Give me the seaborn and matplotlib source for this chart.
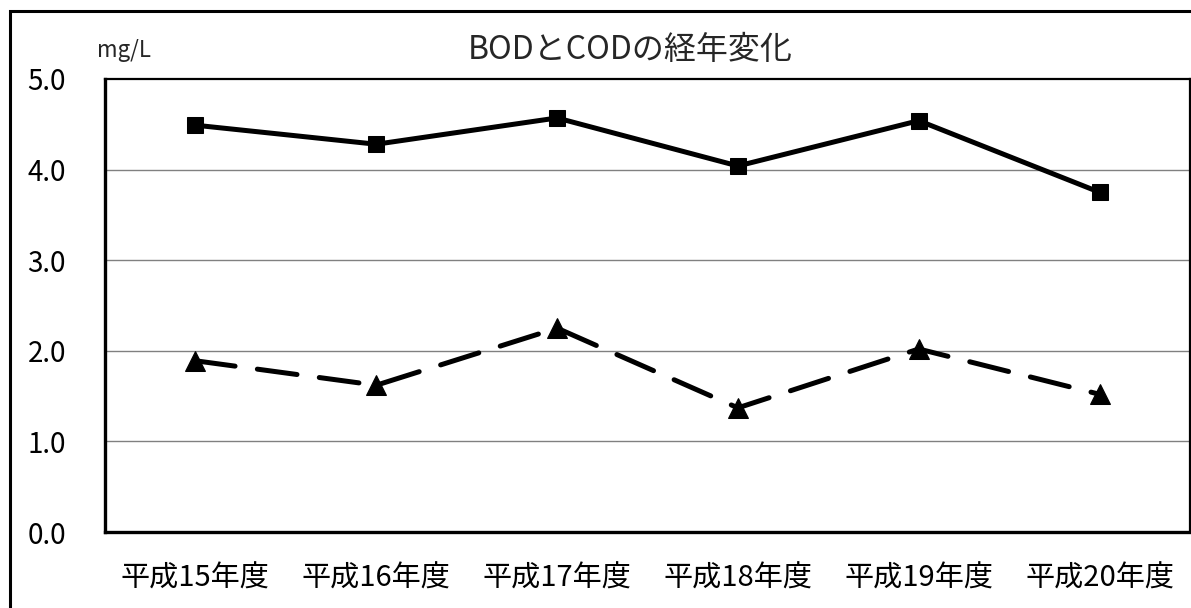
import matplotlib
matplotlib.use("Agg")
import matplotlib.pyplot as plt
from matplotlib.patches import Rectangle
from matplotlib.ticker import FixedLocator
import seaborn as sns
import pandas as pd

categories = ["平成15年度", "平成16年度", "平成17年度", "平成18年度", "平成19年度", "平成20年度"]
cod_values = [4.49, 4.28, 4.57, 4.04, 4.54, 3.75]
bod_values = [1.89, 1.62, 2.25, 1.37, 2.02, 1.52]
y_ticks = [0.0, 1.0, 2.0, 3.0, 4.0, 5.0]
title = "BODとCODの経年変化"
unit = "mg/L"

sns.set_theme(style="white")
plt.rcParams["font.family"] = ["Noto Sans CJK JP", "DejaVu Sans"]

df_cod = pd.DataFrame({"年度": categories, "値": cod_values})
df_bod = pd.DataFrame({"年度": categories, "値": bod_values})

fig = plt.figure(figsize=(11.91, 6.08), dpi=100)
ax = fig.add_axes([105/1191, 1-532/608, (1190-105)/1191, (532-79)/608])

sns.lineplot(data=df_cod, x="年度", y="値", ax=ax, color="black", linewidth=3.6,
             marker="s", markersize=12, markeredgecolor="black", sort=False)
sns.lineplot(data=df_bod, x="年度", y="値", ax=ax, color="black", linewidth=3.6,
             marker="^", markersize=14, markeredgecolor="black", sort=False,
             dashes=False)
line = ax.lines[-1]
line.set_dashes((8, 4.5))
line.set_dash_capstyle("round")

ax.set_xlim(-0.5, len(categories) - 0.5)
ax.set_ylim(0, 5)
ax.set_yticks(y_ticks)
ax.set_yticklabels([f"{v:.1f}" for v in y_ticks])
ax.set_xticks(range(len(categories)))
ax.set_xticklabels(categories)
ax.xaxis.set_minor_locator(FixedLocator([i + 0.5 for i in range(len(categories) - 1)]))
ax.set_xlabel("")
ax.set_ylabel("")

for v in y_ticks[1:-1]:
    ax.axhline(v, color="#808080", linewidth=1.0, zorder=0)

ax.tick_params(axis="y", length=0, pad=28, labelsize=20, colors="black")
ax.tick_params(axis="x", which="major", length=0, pad=23, labelsize=21, colors="black")
ax.tick_params(axis="x", which="minor", direction="in", length=5, width=0.8, color="black")

for side in ["left", "bottom"]:
    ax.spines[side].set_linewidth(2.4)
    ax.spines[side].set_color("black")
for side in ["top", "right"]:
    ax.spines[side].set_linewidth(1.6)
    ax.spines[side].set_color("black")
    ax.spines[side].set_visible(True)

fig.text(630/1191, 1-50/608, title, ha="center", va="center", fontsize=23)
fig.text(97/1191, 1-50/608, unit, ha="left", va="center", fontsize=16)

frame = Rectangle((10/1191, -0.1), 1.2, 1.1 - 11/608, transform=fig.transFigure,
                  fill=False, edgecolor="black", linewidth=2.2)
fig.add_artist(frame)

fig.savefig("out.png", dpi=100, facecolor="white")
